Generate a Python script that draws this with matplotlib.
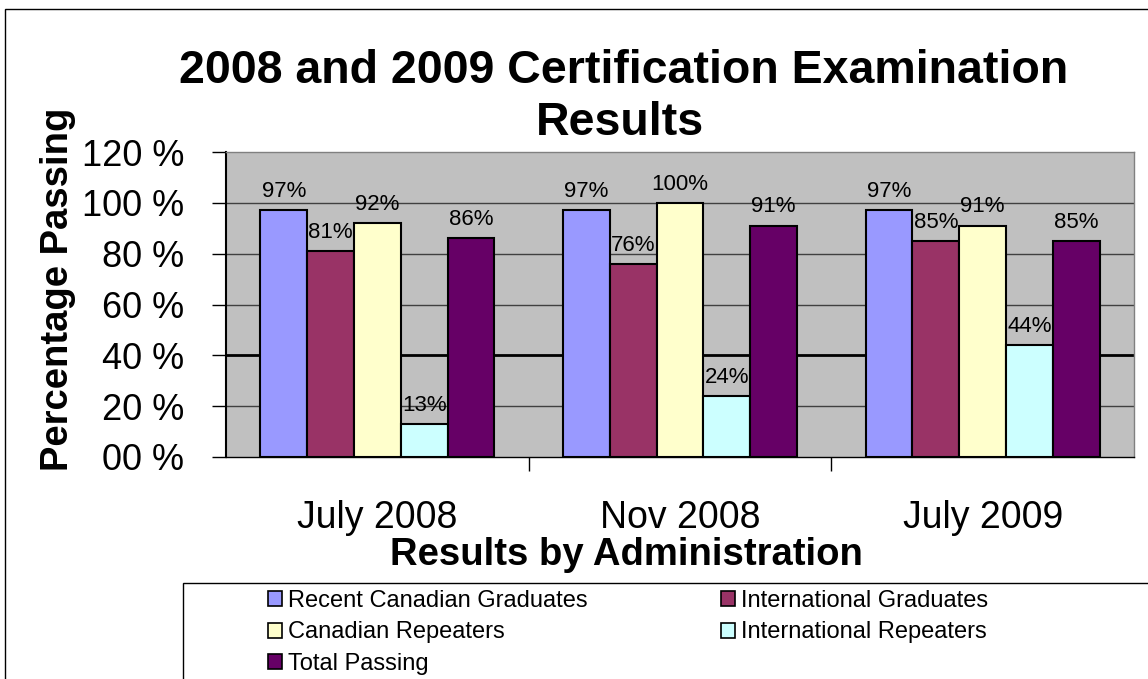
import matplotlib
matplotlib.use("Agg")
import matplotlib.pyplot as plt
from matplotlib.patches import Rectangle, Patch
import numpy as np

plt.rcParams['font.family'] = ['Liberation Sans', 'DejaVu Sans']

categories = ["July 2008", "Nov 2008", "July 2009"]
series_names = ["Recent Canadian Graduates", "International Graduates",
                "Canadian Repeaters", "International Repeaters", "Total Passing"]
recent_canadian = [97, 97, 97]
international_grad = [81, 76, 85]
canadian_repeaters = [92, 100, 91]
international_repeaters = [13, 24, 44]
total_passing = [86, 91, 85]
series_values = [recent_canadian, international_grad, canadian_repeaters,
                 international_repeaters, total_passing]
colors = ["#9999FF", "#993366", "#FFFFCC", "#CCFFFF", "#660066"]
yticks = [0, 20, 40, 60, 80, 100, 120]
ytick_labels = ["00 %", "20 %", "40 %", "60 %", "80 %", "100 %", "120 %"]

W, H = 1148, 679
fig = plt.figure(figsize=(W / 100, H / 100), dpi=100)
fig.patch.set_facecolor("white")

ax = fig.add_axes([226 / W, (H - 457) / H, 908 / W, 305 / H])
ax.set_facecolor("#C0C0C0")

x = np.arange(len(categories))
w = 0.1546
for i, (name, vals, c) in enumerate(zip(series_names, series_values, colors)):
    pos = x + (i - 2) * w
    ax.bar(pos, vals, width=w, color=c, edgecolor="black", linewidth=1.5,
           label=name, zorder=3)
    for px, v in zip(pos, vals):
        ax.annotate(f"{v}%", (px, v), xytext=(0, 6), textcoords="offset points",
                    ha="center", va="bottom", fontsize=16, zorder=4)

ax.set_xlim(-0.5, 2.5)
ax.set_ylim(0, 120)
ax.set_yticks(yticks)
ax.set_yticklabels(ytick_labels, fontsize=26)
ax.tick_params(axis="y", direction="out", length=10, width=1, pad=20)

ax.set_xticks(x)
ax.set_xticklabels(categories, fontsize=27)
ax.set_xticks([0.5, 1.5], minor=True)
ax.tick_params(axis="x", which="major", length=0, pad=31)
ax.tick_params(axis="x", which="minor", direction="out", length=10, width=1)

for yv in yticks[1:-1]:
    if yv == 40:
        ax.axhline(yv, color="black", linewidth=2, zorder=1)
    else:
        ax.axhline(yv, color="#404040", linewidth=1, zorder=1)

for s in ["top", "right"]:
    ax.spines[s].set_color("#808080")
    ax.spines[s].set_linewidth(1)
ax.spines["left"].set_color("black")
ax.spines["left"].set_linewidth(1.5)
ax.spines["bottom"].set_color("black")
ax.spines["bottom"].set_linewidth(1)

ax.set_ylabel("Percentage Passing", fontsize=27.5, fontweight="bold")
ax.yaxis.set_label_coords(-(226 - 58) / 908, (457 - 289) / 305)
ax.set_xlabel("Results by Administration", fontsize=27.5, fontweight="bold")
ax.xaxis.set_label_coords((626 - 226) / 908, -(555 - 457) / 305)
ax.xaxis.label.set_va("center")
ax.yaxis.label.set_va("center")

fig.text(624 / W, (H - 71) / H, "2008 and 2009 Certification Examination",
         fontsize=33.5, fontweight="bold", ha="center", va="center")
fig.text(620 / W, (H - 123) / H, "Results",
         fontsize=33.5, fontweight="bold", ha="center", va="center")

# chart border
fig.add_artist(Rectangle((5 / W, -0.01), 1.0, (H - 9) / H + 0.01,
                         transform=fig.transFigure, fill=False,
                         edgecolor="black", linewidth=1))
# legend frame
fig.add_artist(Rectangle((183 / W, -0.01), 1.0, (H - 583) / H + 0.01,
                         transform=fig.transFigure, fill=False,
                         edgecolor="black", linewidth=1))

order = [0, 2, 4, 1, 3]
handles = [Patch(facecolor=colors[i], edgecolor="black", linewidth=1.2) for i in order]
labels = [series_names[i] for i in order]
fig.legend(handles, labels, loc="upper left",
           bbox_to_anchor=(268 / W, (H - 590) / H), ncol=2, frameon=False,
           fontsize=17, borderpad=0, borderaxespad=0, handlelength=0.6,
           handleheight=0.6, handletextpad=0.25, labelspacing=0.4,
           columnspacing=5.65)

fig.savefig("out.png", dpi=100)
